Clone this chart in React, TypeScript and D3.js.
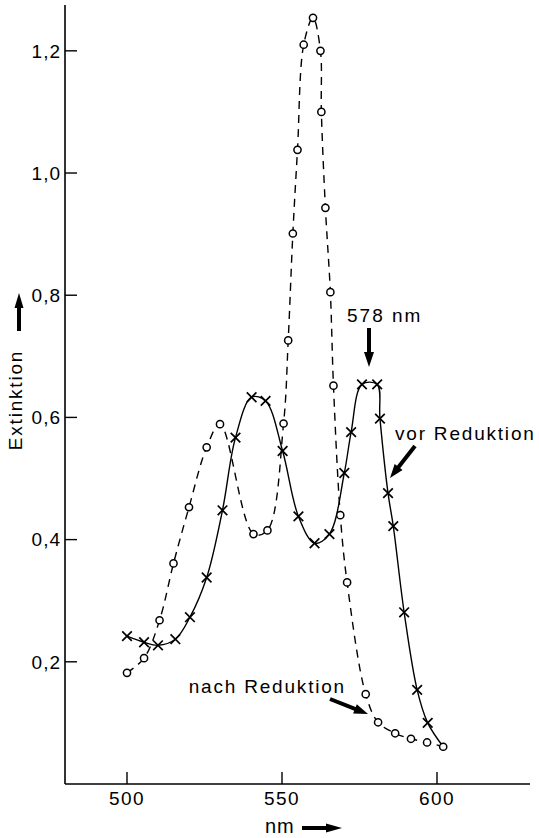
import * as d3 from "d3";

// nach Reduktion (circles, dashed)
const nachNm = [500, 505.5, 510.5, 515, 520, 525.7, 530, 540.8, 545.3, 550.5, 552, 553.5, 555, 557, 560, 562.4, 562.7, 564, 565.6, 566.6, 568.8, 571, 577, 581, 586.5, 591.6, 596.8, 602];
const nachExt = [0.182, 0.206, 0.268, 0.361, 0.453, 0.551, 0.589, 0.409, 0.415, 0.59, 0.726, 0.901, 1.038, 1.21, 1.254, 1.2, 1.1, 0.943, 0.805, 0.652, 0.44, 0.33, 0.147, 0.101, 0.083, 0.074, 0.068, 0.061];

// vor Reduktion (crosses, solid); last point is the shared end on the circle curve
const vorNm = [500, 505.5, 510, 515.6, 520.3, 525.7, 530.8, 535, 540.2, 544.7, 550.2, 555.3, 560.5, 565.3, 570.1, 572.3, 575.8, 580.7, 581.6, 584.2, 585.9, 589.4, 593.6, 597, 602];
const vorExt = [0.242, 0.232, 0.227, 0.237, 0.273, 0.338, 0.448, 0.567, 0.633, 0.627, 0.545, 0.438, 0.394, 0.409, 0.509, 0.576, 0.654, 0.654, 0.598, 0.476, 0.422, 0.281, 0.154, 0.1, 0.061];

const xTicks = [500, 550, 600];
const yTicks = [0.2, 0.4, 0.6, 0.8, 1.0, 1.2];

const W = 539;
const H = 838;
const font = "'Liberation Sans', Arial, Helvetica, sans-serif";

type Pt = [number, number];

function Arrow({ from, to, w = 3.5, head = 13, hw = 5.5 }: { from: Pt; to: Pt; w?: number; head?: number; hw?: number }) {
  const dx = to[0] - from[0];
  const dy = to[1] - from[1];
  const len = Math.hypot(dx, dy);
  const ux = dx / len;
  const uy = dy / len;
  const bx = to[0] - ux * head;
  const by = to[1] - uy * head;
  const px = -uy;
  const py = ux;
  const pts = [
    [to[0], to[1]],
    [bx + px * hw, by + py * hw],
    [bx - px * hw, by - py * hw],
  ]
    .map((p) => p.join(","))
    .join(" ");
  return (
    <g>
      <line x1={from[0]} y1={from[1]} x2={bx + ux * 2} y2={by + uy * 2} stroke="#000" strokeWidth={w} />
      <polygon points={pts} fill="#000" />
    </g>
  );
}

export default function App() {
  const x = d3.scaleLinear().domain([480, 630]).range([65, 530]);
  const y = d3.scaleLinear().domain([0, 1.275]).range([784, 5]);

  const line = d3
    .line<number>()
    .x((d) => x(d))
    .curve(d3.curveCatmullRom.alpha(0.5));

  const nachPath = d3
    .line<number>()
    .x((d) => x(nachNm[d]))
    .y((d) => y(nachExt[d]))
    .curve(d3.curveCatmullRom.alpha(0.5))(nachNm.map((_, i) => i));
  const vorPath = d3
    .line<number>()
    .x((d) => x(vorNm[d]))
    .y((d) => y(vorExt[d]))
    .curve(d3.curveCatmullRom.alpha(0.5))(vorNm.map((_, i) => i));
  void line;

  const x0 = x.range()[0];
  const y0 = y(0);

  return (
    <svg width={W} height={H} style={{ position: "absolute", left: 0, top: 0, background: "#fff" }} fontFamily={font}>
      <rect width={W} height={H} fill="#fff" />
      {/* axes */}
      <line x1={x0} y1={y(1.275)} x2={x0} y2={y0} stroke="#000" strokeWidth={1.6} />
      <line x1={x0} y1={y0} x2={x.range()[1]} y2={y0} stroke="#000" strokeWidth={1.6} />
      {yTicks.map((t) => (
        <g key={t}>
          <line x1={x0} x2={x0 + 12} y1={y(t)} y2={y(t)} stroke="#000" strokeWidth={1.4} />
          <text x={61} y={y(t)} dy="0.36em" textAnchor="end" fontSize={19} letterSpacing={1}>
            {t.toFixed(1).replace(".", ",")}
          </text>
        </g>
      ))}
      {xTicks.map((t) => (
        <g key={t}>
          <line x1={x(t)} x2={x(t)} y1={y0} y2={y0 - 12} stroke="#000" strokeWidth={1.4} />
          <text x={x(t)} y={805} textAnchor="middle" fontSize={19} letterSpacing={1.5}>
            {t}
          </text>
        </g>
      ))}

      {/* axis labels */}
      <text x={265} y={833} fontSize={20} letterSpacing={1}>
        nm
      </text>
      <Arrow from={[302, 828]} to={[342, 828]} w={4} head={16} hw={4.5} />
      <text transform="translate(22,400) rotate(-90)" textAnchor="middle" fontSize={19} letterSpacing={1.8}>
        Extinktion
      </text>
      <Arrow from={[19, 331]} to={[19, 293]} w={4} head={15} hw={4.5} />

      {/* curves */}
      <path d={nachPath ?? ""} fill="none" stroke="#000" strokeWidth={1.4} strokeDasharray="8,6" />
      <path d={vorPath ?? ""} fill="none" stroke="#000" strokeWidth={1.4} />

      {nachNm.map((n, i) => (
        <circle key={"c" + i} cx={x(n)} cy={y(nachExt[i])} r={3.6} fill="#fff" stroke="#000" strokeWidth={1.5} />
      ))}
      {vorNm.slice(0, -1).map((n, i) => {
        const cx = x(n);
        const cy = y(vorExt[i]);
        const s = 4.8;
        return (
          <path
            key={"x" + i}
            d={`M${cx - s},${cy - s}L${cx + s},${cy + s}M${cx - s},${cy + s}L${cx + s},${cy - s}`}
            stroke="#000"
            strokeWidth={1.7}
          />
        );
      })}

      {/* annotations */}
      <text x={347} y={322} fontSize={19} letterSpacing={2}>
        578 nm
      </text>
      <Arrow from={[369, 328]} to={[369, 367]} w={4} head={15} hw={5} />
      <text x={395} y={440} fontSize={19} letterSpacing={1.8}>
        vor Reduktion
      </text>
      <Arrow from={[415, 446]} to={[390, 478]} w={4} head={14} hw={5} />
      <text x={346} y={693} textAnchor="end" fontSize={19} letterSpacing={1.8}>
        nach Reduktion
      </text>
      <Arrow from={[330, 699]} to={[368, 714]} w={4} head={14} hw={5} />
    </svg>
  );
}
